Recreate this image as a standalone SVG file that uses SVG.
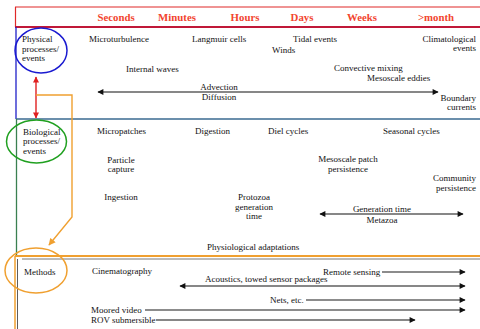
<svg xmlns="http://www.w3.org/2000/svg" width="480" height="329" viewBox="0 0 480 329">
<defs>
<style>
.h{font-family:"Liberation Serif",serif;font-weight:bold;font-size:10.8px;fill:#f2452f;text-anchor:middle}
.t{font-family:"Liberation Serif",serif;font-size:9px;fill:#111}
.m{text-anchor:middle}
.e{text-anchor:end}
.ln{stroke:#111;stroke-width:1.2;fill:none}
.gl{stroke:#666;stroke-width:1.3;fill:none}
</style>
<marker id="ah" viewBox="0 0 10 10" refX="9" refY="5" markerWidth="7" markerHeight="6" orient="auto-start-reverse" markerUnits="userSpaceOnUse"><path d="M0,0 L10,5 L0,10 z" fill="#111"/></marker>
<marker id="ahr" viewBox="0 0 10 10" refX="9" refY="5" markerWidth="7" markerHeight="6" orient="auto-start-reverse" markerUnits="userSpaceOnUse"><path d="M0,0 L10,5 L0,10 z" fill="#e02020"/></marker>
<marker id="aho" viewBox="0 0 10 10" refX="9" refY="5" markerWidth="8" markerHeight="7" orient="auto" markerUnits="userSpaceOnUse"><path d="M0,0 L10,5 L0,10 z" fill="#f0a030"/></marker>
</defs>
<rect width="480" height="329" fill="#fff"/>
<g id="frame">
<line x1="15" y1="7" x2="480" y2="7" stroke="#e02828" stroke-width="1.2"/>
<line x1="15.5" y1="7" x2="15.5" y2="27" stroke="#e02828" stroke-width="1.2"/>
<line x1="15" y1="27" x2="480" y2="27" stroke="#c01838" stroke-width="2"/>
<line x1="16" y1="27" x2="16" y2="119" stroke="#2020c8" stroke-width="1.3"/>
<line x1="16" y1="119" x2="480" y2="119" stroke="#3a6a90" stroke-width="1.6"/>
<line x1="16.5" y1="119" x2="16.5" y2="256" stroke="#3a8050" stroke-width="1.3"/>
<line x1="15" y1="256" x2="480" y2="256" stroke="#f0a030" stroke-width="2"/>
<line x1="22" y1="259" x2="480" y2="259" stroke="#555" stroke-width="0.8"/>
<line x1="15" y1="256" x2="15" y2="329" stroke="#f0a030" stroke-width="1.5"/>
<line x1="17.5" y1="259" x2="17.5" y2="329" stroke="#333" stroke-width="0.8"/>
</g>
<g id="header">
<text class="h" x="116" y="21">Seconds</text>
<text class="h" x="177" y="21">Minutes</text>
<text class="h" x="245" y="21">Hours</text>
<text class="h" x="302" y="21">Days</text>
<text class="h" x="362" y="21">Weeks</text>
<text class="h" x="436" y="21">&gt;month</text>
</g>
<g id="physical">
<ellipse cx="41" cy="50.5" rx="26" ry="22.5" fill="none" stroke="#1a1ad0" stroke-width="1.5"/>
<text class="t" x="22" y="42">Physical</text>
<text class="t" x="22" y="52">processes/</text>
<text class="t" x="22" y="61">events</text>
</g>
<g id="biological">
<ellipse cx="36.5" cy="141.5" rx="30" ry="21.5" fill="none" stroke="#20a020" stroke-width="1.5"/>
<text class="t" x="23" y="135">Biological</text>
<text class="t" x="23" y="144">processes/</text>
<text class="t" x="23" y="154">events</text>
</g>
<g id="methods">
<ellipse cx="36" cy="270.5" rx="31" ry="22.5" fill="none" stroke="#f0a030" stroke-width="1.5"/>
<text class="t" x="24" y="275">Methods</text>
</g>
<g id="labels">
<text class="t" x="89" y="42">Microturbulence</text>
<text class="t" x="192" y="42">Langmuir cells</text>
<text class="t" x="293" y="42">Tidal events</text>
<text class="t" x="272" y="53">Winds</text>
<text class="t e" x="476" y="42">Climatological</text>
<text class="t e" x="476" y="51">events</text>
<text class="t" x="126" y="72">Internal waves</text>
<text class="t" x="334" y="71">Convective mixing</text>
<text class="t" x="367" y="81">Mesoscale eddies</text>
<text class="t m" x="219" y="90">Advection</text>
<text class="t m" x="219" y="100">Diffusion</text>
<text class="t e" x="476" y="101">Boundary</text>
<text class="t e" x="476" y="110">currents</text>
<text class="t" x="97" y="134">Micropatches</text>
<text class="t" x="195" y="134">Digestion</text>
<text class="t" x="268" y="134">Diel cycles</text>
<text class="t" x="383" y="134">Seasonal cycles</text>
<text class="t m" x="121" y="163">Particle</text>
<text class="t m" x="121" y="172">capture</text>
<text class="t m" x="121" y="200">Ingestion</text>
<text class="t m" x="348" y="162">Mesoscale patch</text>
<text class="t m" x="348" y="172">persistence</text>
<text class="t e" x="476" y="181">Community</text>
<text class="t e" x="476" y="191">persistence</text>
<text class="t m" x="254" y="200">Protozoa</text>
<text class="t m" x="254" y="210">generation</text>
<text class="t m" x="254" y="219">time</text>
<text class="t m" x="382" y="212">Generation time</text>
<text class="t m" x="382" y="223">Metazoa</text>
<text class="t" x="207" y="250">Physiological adaptations</text>
<text class="t" x="92" y="274">Cinematography</text>
<text class="t" x="323" y="275">Remote sensing</text>
<text class="t" x="205" y="282">Acoustics, towed sensor packages</text>
<text class="t" x="270" y="303">Nets, etc.</text>
<text class="t" x="91" y="313">Moored video</text>
<text class="t" x="91" y="323">ROV submersible</text>
</g>
<g id="connectors">
<line x1="36" y1="77" x2="36" y2="118" stroke="#e02020" stroke-width="1.4" marker-start="url(#ahr)" marker-end="url(#ahr)"/>
<polyline points="36,95 72,95 72,217 49,245" fill="none" stroke="#f0a030" stroke-width="1.4" marker-end="url(#aho)"/>
<line class="ln" x1="98" y1="92" x2="438" y2="92" marker-start="url(#ah)" marker-end="url(#ah)"/>
<line class="ln" x1="320" y1="214" x2="463" y2="214" stroke="#333" marker-start="url(#ah)" marker-end="url(#ah)"/>
<line class="gl" x1="382" y1="272" x2="465" y2="272" marker-end="url(#ah)"/>
<line class="ln" x1="180" y1="286" x2="465" y2="286" marker-start="url(#ah)" marker-end="url(#ah)"/>
<line class="gl" x1="306" y1="300" x2="465" y2="300" stroke="#444" marker-end="url(#ah)"/>
<line class="gl" x1="145" y1="310" x2="465" y2="310" marker-end="url(#ah)"/>
<line class="ln" x1="156" y1="320" x2="415" y2="320" marker-end="url(#ah)"/>
</g>
</svg>
